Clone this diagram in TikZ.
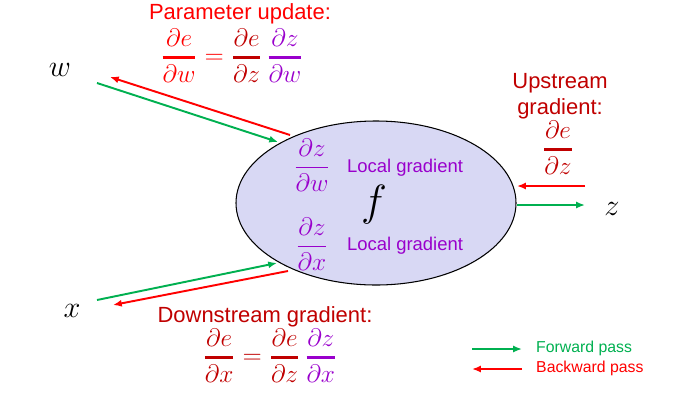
\documentclass[tikz,border=0pt]{standalone}
\usepackage{amsmath}
\usepackage{fontspec}
\setmainfont{Liberation Sans}
\usetikzlibrary{arrows.meta}
\definecolor{fwdgreen}{HTML}{00B050}
\definecolor{bwdred}{HTML}{FF0000}
\definecolor{darkred}{HTML}{C00000}
\definecolor{locpurple}{HTML}{9900CC}
\definecolor{nodefill}{HTML}{D8D8F4}
\newcommand{\pfrac}[2]{\genfrac{}{}{1.3pt}{0}{\partial #1}{\partial #2}}
\tikzset{
  fwd/.style={fwdgreen,line width=1.1pt,-{Latex[length=5pt,width=4pt]}},
  bwd/.style={bwdred,line width=1.1pt,-{Latex[length=5pt,width=4pt]}},
  varlabel/.style={font=\fontsize{17}{20}\selectfont},
  caption/.style={font=\fontsize{12.5}{15}\selectfont,align=center},
  localtext/.style={font=\fontsize{10.5}{13}\selectfont,text=locpurple},
  eqn/.style={font=\fontsize{13.5}{16}\selectfont}
}
\begin{document}
\begin{tikzpicture}[x=0.02cm,y=-0.02cm]
\useasboundingbox (0,0) rectangle (685,406);

% the gate
\draw [fill=nodefill,line width=.6pt] (376,203) ellipse [x radius=140,y radius=82] ;
\node (f) at (374,205) {\fontsize{26}{30}\selectfont$f$} ;

% inputs and output
\node [varlabel] (w) at (60,70) {$w$} ;
\node [varlabel] (x) at (72,311) {$x$} ;
\node [varlabel] (z) at (612,209) {$z$} ;

\coordinate (wout) at (97,83) ;
\coordinate (win) at (278,142) ;
\coordinate (wback) at (290,135) ;
\coordinate (wtip) at (110,77) ;
\coordinate (xout) at (97,300) ;
\coordinate (xin) at (277,263) ;
\coordinate (xback) at (288,271) ;
\coordinate (xtip) at (113,305) ;
\coordinate (zup) at (585,186) ;
\coordinate (zin) at (517,186) ;
\coordinate (zout) at (517,205) ;
\coordinate (ztip) at (585,205) ;

\draw [fwd] (wout) -- (win) ;
\draw [bwd] (wback) -- (wtip) ;
\draw [fwd] (xout) -- (xin) ;
\draw [bwd] (xback) -- (xtip) ;
\draw [bwd] (zup) -- (zin) ;
\draw [fwd] (zout) -- (ztip) ;

% local gradients
\node [eqn,text=locpurple] (dzdw) at (312,165) {$\displaystyle\frac{\partial z}{\partial w}$} ;
\node [localtext] (locw) at (405,168) {Local gradient} ;
\node [eqn,text=locpurple] (dzdx) at (312,244) {$\displaystyle\frac{\partial z}{\partial x}$} ;
\node [localtext] (locx) at (405,246) {Local gradient} ;

% parameter update
\node [caption,text=bwdred] (param) at (240,14) {Parameter update:} ;
\node [eqn] (parameq) at (232,56) {$\textcolor{bwdred}{\pfrac{e}{w}}\mathrel{\textcolor{bwdred}{=}}
  \textcolor{darkred}{\pfrac{e}{z}}\,\textcolor{locpurple}{\pfrac{z}{w}}$} ;

% upstream gradient
\node [caption,text=darkred] (up) at (560,96) {Upstream\\gradient:} ;
\node [eqn,text=darkred] (upeq) at (558,148) {$\pfrac{e}{z}$} ;

% downstream gradient
\node [caption,text=darkred] (down) at (265,317) {Downstream gradient:} ;
\node [eqn] (downeq) at (270,356) {$\textcolor{darkred}{\pfrac{e}{x}}\mathrel{\textcolor{darkred}{=}}
  \textcolor{darkred}{\pfrac{e}{z}}\,\textcolor{locpurple}{\pfrac{z}{x}}$} ;

% legend
\coordinate (fwdA) at (472,349) ;
\coordinate (fwdB) at (522,349) ;
\coordinate (bwdA) at (522,369) ;
\coordinate (bwdB) at (472,369) ;
\draw [fwd] (fwdA) -- (fwdB) ;
\draw [bwd] (bwdA) -- (bwdB) ;
\node [anchor=west,text=fwdgreen,font=\small] (fwdtext) at (530,348) {Forward pass} ;
\node [anchor=west,text=bwdred,font=\small] (bwdtext) at (530,368) {Backward pass} ;

\end{tikzpicture}
\end{document}
